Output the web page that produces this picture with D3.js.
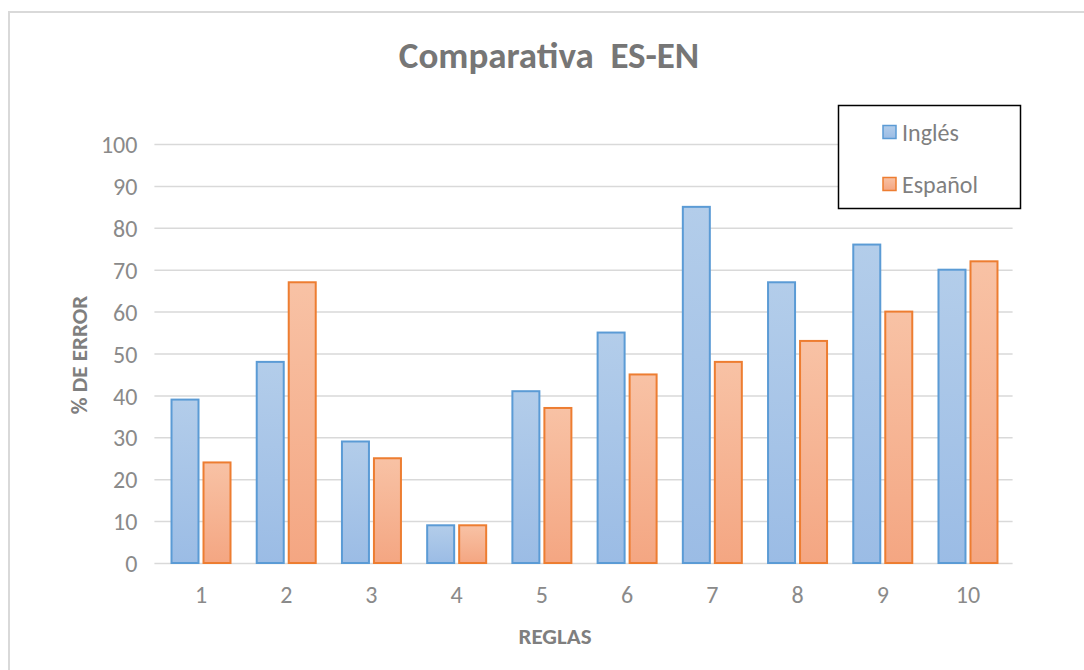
<!DOCTYPE html>
<html><head><meta charset="utf-8">
<script src="https://cdn.jsdelivr.net/npm/d3@7"></script>
<style>body{margin:0;background:#fff}svg{display:block}</style>
</head><body>
<script>
const categories = ["1","2","3","4","5","6","7","8","9","10"];
const ingles  = [39, 48, 29, 9, 41, 55, 85, 67, 76, 70];
const espanol = [24, 67, 25, 9, 37, 45, 48, 53, 60, 72];
const seriesNames = ["Inglés", "Español"];
const yTicks = [0,10,20,30,40,50,60,70,80,90,100];

(function(){
const W = 1084, H = 670;
const svg = d3.select("body").append("svg").attr("width", W).attr("height", H);
const defs = svg.append("defs");
const gradB = defs.append("linearGradient").attr("id","gB").attr("x1",0).attr("y1",0).attr("x2",0).attr("y2",1);
gradB.append("stop").attr("offset","0%").attr("stop-color","#b3cdea");
gradB.append("stop").attr("offset","100%").attr("stop-color","#9bbce5");
const gradO = defs.append("linearGradient").attr("id","gO").attr("x1",0).attr("y1",0).attr("x2",0).attr("y2",1);
gradO.append("stop").attr("offset","0%").attr("stop-color","#f8c2a5");
gradO.append("stop").attr("offset","100%").attr("stop-color","#f4a682");

// outer border
svg.append("path").attr("d", `M9,${H+5} V12 H${W+5}`).attr("fill","none").attr("stroke","#d9d9d9").attr("stroke-width",2);

const font = "Carlito, Lato, 'Open Sans', sans-serif";
const pLeft = 158.4, pRight = 1010.6, pTop = 144, pBottom = 563;
const x = d3.scaleBand().domain(categories).range([pLeft, pRight]).paddingInner(0).paddingOuter(0);
const y = d3.scaleLinear().domain([0,100]).range([pBottom, pTop]);

// gridlines
svg.append("g").selectAll("line").data(yTicks).join("line")
  .attr("x1", pLeft-4).attr("x2", pRight+2)
  .attr("y1", d=>y(d)+0.5).attr("y2", d=>y(d)+0.5)
  .attr("stroke","#d9d9d9").attr("stroke-width",1.5);

// y axis labels
const yAxis = d3.axisLeft(y).tickValues(yTicks).tickSize(0).tickPadding(0);
const gy = svg.append("g").attr("transform", `translate(${pLeft-21},0)`).call(yAxis);
gy.select(".domain").remove();
gy.selectAll("text").attr("font-family", font).attr("font-size", 24).attr("fill","#8a8a8a").attr("dy","0.36em");

// x axis labels
const xAxis = d3.axisBottom(x).tickSize(0).tickPadding(0);
const gx = svg.append("g").attr("transform", `translate(0,${pBottom+31})`).call(xAxis);
gx.select(".domain").remove();
gx.selectAll("text").attr("font-family", font).attr("font-size", 24).attr("fill","#8a8a8a").attr("dy","0.36em");

// bars
const bw = 27, gap = 5;
const data = categories.map((c,i)=>({c, a: ingles[i], b: espanol[i]}));
const cx = c => x(c) + x.bandwidth()/2;
svg.append("g").selectAll("rect").data(data).join("rect")
  .attr("x", d=>cx(d.c) - gap/2 - bw).attr("width", bw)
  .attr("y", d=>y(d.a)).attr("height", d=>y(0)-y(d.a))
  .attr("fill","url(#gB)").attr("stroke","#5b9bd5").attr("stroke-width",2);
svg.append("g").selectAll("rect").data(data).join("rect")
  .attr("x", d=>cx(d.c) + gap/2).attr("width", bw)
  .attr("y", d=>y(d.b)).attr("height", d=>y(0)-y(d.b))
  .attr("fill","url(#gO)").attr("stroke","#ed7d31").attr("stroke-width",2);

// title
svg.append("text").attr("x", 549).attr("y", 68).attr("text-anchor","middle")
  .attr("font-family", font).attr("font-weight","bold").attr("font-size", 37).attr("fill","#767676")
  .style("white-space","pre").text("Comparativa  ES-EN");

// axis titles
svg.append("text").attr("transform","translate(79,355) rotate(-90)").attr("text-anchor","middle")
  .attr("dy","0.36em")
  .attr("font-family", font).attr("font-weight","bold").attr("font-size", 23).attr("fill","#7f7f7f").text("% DE ERROR");
svg.append("text").attr("x", 555).attr("y", 636).attr("text-anchor","middle").attr("dy","0.36em")
  .attr("font-family", font).attr("font-weight","bold").attr("font-size", 23).attr("fill","#7f7f7f").text("REGLAS");

// legend
const lg = svg.append("g");
lg.append("rect").attr("x",838.5).attr("y",105.5).attr("width",182).attr("height",103)
  .attr("fill","#fff").attr("stroke","#000").attr("stroke-width",1.5);
const fills = ["url(#gB)","url(#gO)"], strokes = ["#5b9bd5","#ed7d31"];
seriesNames.forEach((n,i)=>{
  const yy = 132 + i*52;
  lg.append("rect").attr("x",883).attr("y",yy-6.5).attr("width",13).attr("height",13)
    .attr("fill",fills[i]).attr("stroke",strokes[i]).attr("stroke-width",1.5);
  lg.append("text").attr("x",902).attr("y",yy).attr("dy","0.36em")
    .attr("font-family", font).attr("font-size", 24).attr("fill","#7f7f7f").text(n);
});
})();
</script>
</body></html>
